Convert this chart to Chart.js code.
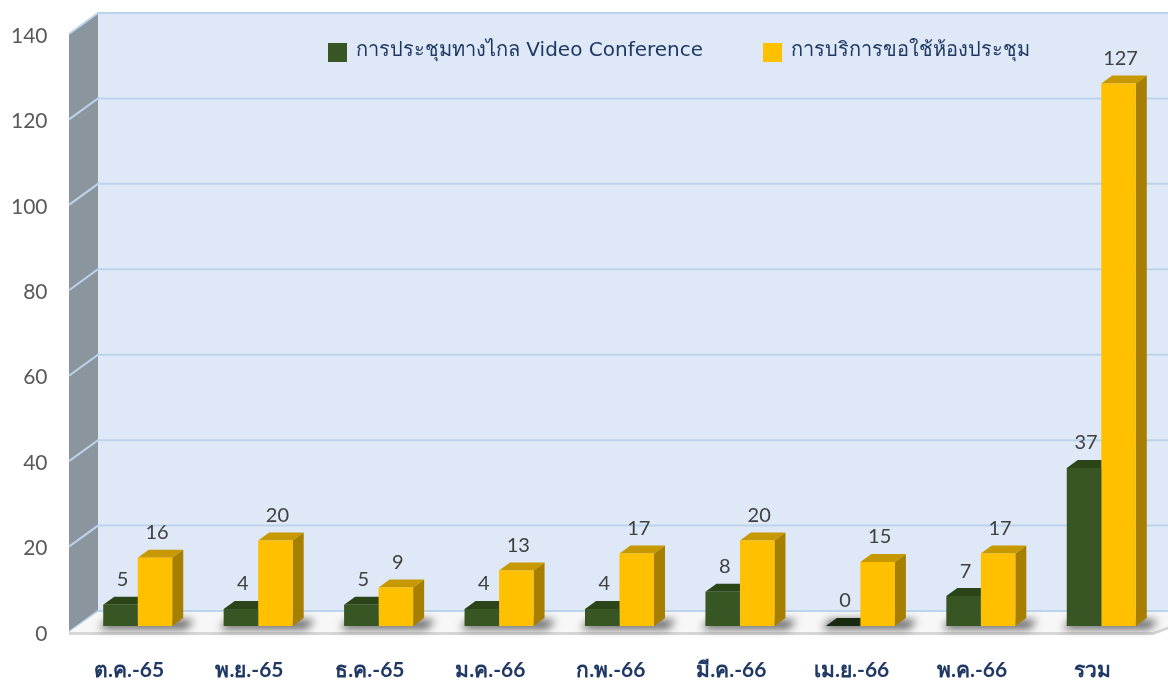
<!DOCTYPE html>
<html>
<head>
<meta charset="utf-8">
<script src="https://cdn.jsdelivr.net/npm/chart.js@4.4.1/dist/chart.umd.min.js"></script>
<style>
  html, body { margin: 0; padding: 0; background: #ffffff; }
  #wrap { width: 1168px; height: 681px; }
</style>
</head>
<body>
<div id="wrap"><canvas id="chartCanvas" width="1168" height="681"></canvas></div>
<script>
// ---------- data ----------
const categories = ["ต.ค.-65", "พ.ย.-65", "ธ.ค.-65", "ม.ค.-66", "ก.พ.-66", "มี.ค.-66", "เม.ย.-66", "พ.ค.-66", "รวม"];
const videoConf = [5, 4, 5, 4, 4, 8, 0, 7, 37];
const roomService = [16, 20, 9, 13, 17, 20, 15, 17, 127];
const seriesNames = ["การประชุมทางไกล Video Conference", "การบริการขอใช้ห้องประชุม"];
const yTicks = [0, 20, 40, 60, 80, 100, 120, 140];

const FONT = "Lato, 'Noto Sans', sans-serif";
const LEGEND_FONT = "'DejaVu Sans', sans-serif";

// 3D offsets
const WALL_DX = 20.5, WALL_DY = -15;   // bar plane -> back wall
const FRONT_DX = -8.5, FRONT_DY = 6;   // bar plane -> front edge
const BAR_DX = 11, BAR_DY = -8;        // bar depth

const faceColors = [
  { front: "#375623", top: "#2b4519", side: "#25391a", zero: "#1a2a10" },
  { front: "#ffc000", top: "#c79800", side: "#a67e00", zero: "#8a6a00" }
];

function poly(ctx, pts, fill) {
  ctx.beginPath();
  ctx.moveTo(pts[0][0], pts[0][1]);
  for (let i = 1; i < pts.length; i++) ctx.lineTo(pts[i][0], pts[i][1]);
  ctx.closePath();
  ctx.fillStyle = fill;
  ctx.fill();
}

// ---------- walls, floor, grid ----------
const wallsPlugin = {
  id: "walls",
  beforeDatasetsDraw(chart) {
    const ctx = chart.ctx;
    const a = chart.chartArea;
    const y = chart.scales.y;
    const W = chart.width;
    const y0 = y.getPixelForValue(0);
    const yTop = y.getPixelForValue(140);
    const bl = a.left + WALL_DX, fl = a.left + FRONT_DX;
    ctx.save();
    // back wall
    poly(ctx, [[bl, yTop + WALL_DY], [W, yTop + WALL_DY], [W, y0 + WALL_DY], [bl, y0 + WALL_DY]], "#dee8f6");
    // left wall
    poly(ctx, [[fl, yTop + FRONT_DY], [bl, yTop + WALL_DY], [bl, y0 + WALL_DY], [fl, y0 + FRONT_DY]], "#8b959d");
    // grid lines
    ctx.strokeStyle = "#bcd3ec";
    ctx.lineWidth = 2;
    yTicks.forEach(v => {
      const p = y.getPixelForValue(v);
      ctx.beginPath();
      ctx.moveTo(fl, p + FRONT_DY);
      ctx.lineTo(bl, p + WALL_DY);
      ctx.lineTo(W, p + WALL_DY);
      ctx.stroke();
    });
    // floor
    const fr = a.right + FRONT_DX;
    poly(ctx, [[fl, y0 + FRONT_DY], [bl, y0 + WALL_DY + 1], [W + 40, y0 + WALL_DY + 1], [fr, y0 + FRONT_DY]], "#f7f7f7");
    poly(ctx, [[fl, y0 + FRONT_DY], [fr, y0 + FRONT_DY], [fr, y0 + FRONT_DY + 3], [fl, y0 + FRONT_DY + 3]], "#d6d6d6");
    poly(ctx, [[fr, y0 + FRONT_DY], [W + 40, y0 + WALL_DY + 1], [W + 40, y0 + WALL_DY + 4], [fr, y0 + FRONT_DY + 3]], "#d6d6d6");

    // shadows under each group
    const m0 = chart.getDatasetMeta(0).data, m1 = chart.getDatasetMeta(1).data;
    ctx.filter = "blur(4px)";
    m0.forEach((g, i) => {
      const yb = m1[i];
      const l = g.x - g.width / 2 - 4, r = yb.x + yb.width / 2 + 14;
      poly(ctx, [[l, g.base + 3], [l + 8, g.base - 6], [r + 8, g.base - 6], [r, g.base + 3]], "rgba(40,40,40,0.75)");
    });
    ctx.filter = "none";

    // bar tops and sides (behind the front faces)
    [m0, m1].forEach((meta, di) => {
      const c = faceColors[di];
      meta.forEach(el => {
        const l = el.x - el.width / 2, r = el.x + el.width / 2;
        const t = el.y, b = el.base;
        poly(ctx, [[r, t], [r + BAR_DX, t + BAR_DY], [r + BAR_DX, b + BAR_DY], [r, b]], c.side);
        poly(ctx, [[l, t], [l + BAR_DX, t + BAR_DY], [r + BAR_DX, t + BAR_DY], [r, t]], Math.abs(b - t) < 1 ? c.zero : c.top);
      });
    });
    ctx.restore();
  },
  afterDatasetsDraw(chart) {
    const ctx = chart.ctx;
    ctx.save();
    ctx.font = "20px " + FONT;
    ctx.fillStyle = "#404040";
    ctx.textAlign = "center";
    ctx.textBaseline = "middle";
    chart.data.datasets.forEach((ds, di) => {
      chart.getDatasetMeta(di).data.forEach((el, i) => {
        ctx.fillText(String(ds.data[i]), el.x + 2, el.y - 25);
      });
    });
    // legend
    const items = [[328, seriesNames[0]], [763, seriesNames[1]]];
    ctx.textAlign = "left";
    ctx.font = "20px " + LEGEND_FONT;
    items.forEach((it, i) => {
      ctx.fillStyle = faceColors[i].front;
      ctx.fillRect(it[0], 43, 19, 19);
      ctx.fillStyle = "#1f3864";
      ctx.fillText(it[1], it[0] + 28, 51);
    });
    ctx.restore();
  }
};

// ---------- chart ----------
const chartInstance = new Chart(document.getElementById("chartCanvas"), {
  type: "bar",
  data: {
    labels: categories,
    datasets: [
      { label: seriesNames[0], data: videoConf, backgroundColor: faceColors[0].front },
      { label: seriesNames[1], data: roomService, backgroundColor: faceColors[1].front }
    ]
  },
  options: {
    responsive: false,
    animation: false,
    categoryPercentage: 0.573,
    barPercentage: 1.0,
    layout: { padding: { top: 28, right: 6.5, left: 0, bottom: 0 } },
    plugins: { legend: { display: false }, tooltip: { enabled: false } },
    scales: {
      x: {
        grid: { display: false },
        border: { display: false },
        afterFit: s => { s.height = 55; s.paddingLeft = 0; s.paddingRight = 0; },
        ticks: {
          color: "#1f3864",
          font: { family: FONT, size: 21, weight: "bold" },
          padding: 24,
          labelOffset: -8.7,
          maxRotation: 0
        }
      },
      y: {
        min: 0,
        max: 140,
        grid: { display: false, drawTicks: false },
        border: { display: false },
        afterFit: s => { s.width = 77.5; s.paddingTop = 0; s.paddingBottom = 0; },
        afterBuildTicks: s => { s.ticks = yTicks.map(v => ({ value: v })); },
        ticks: {
          color: "#595959",
          font: { family: FONT, size: 21 },
          padding: 30,
          labelOffset: 8
        }
      }
    }
  },
  plugins: [wallsPlugin]
});
</script>
</body>
</html>
